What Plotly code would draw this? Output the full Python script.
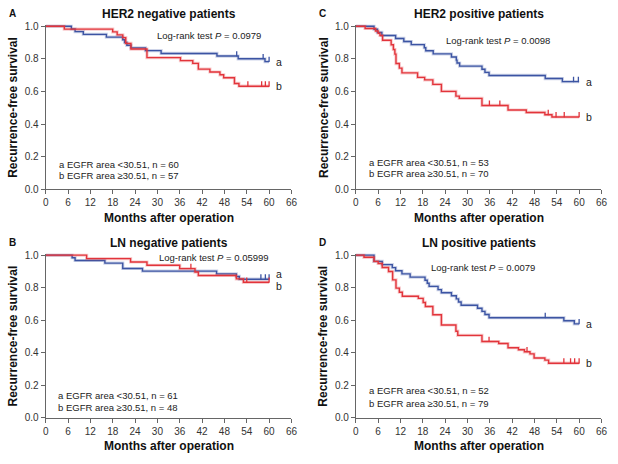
import plotly.graph_objects as go

W, H = 618, 464
BLUE = "#3D55A3"
RED = "#E2343B"
FONT = "Arial, Liberation Sans, sans-serif"

# ---- data (months, survival) ----
# A: HER2 negative patients
her2neg_a_t = [0, 6.9, 7.9, 10.1, 16.3, 20.7, 21.2, 21.8, 22.9, 26.8, 31, 46, 51.7, 58.9, 60]
her2neg_a_s = [1.0, 0.983, 0.967, 0.95, 0.933, 0.917, 0.9, 0.883, 0.867, 0.85, 0.833, 0.817, 0.8, 0.783, 0.783]
her2neg_a_cens = [51.3, 58.4, 60]
her2neg_b_t = [0, 5, 18, 19.2, 20.7, 21.5, 22.9, 27.2, 36.2, 39.5, 41, 44.1, 46.8, 47.8, 50.7, 51.9, 60]
her2neg_b_s = [1.0, 0.982, 0.965, 0.947, 0.93, 0.895, 0.86, 0.807, 0.789, 0.772, 0.737, 0.719, 0.702, 0.684, 0.649, 0.632, 0.632]
her2neg_b_cens = [54.3, 58, 59, 60]

# C: HER2 positive patients
her2pos_a_t = [0, 4.9, 5.8, 7.0, 10.7, 12.9, 14.9, 18.4, 18.8, 20.8, 25.7, 27, 27.2, 27.9, 33.9, 34.7, 35.8, 50.9, 55.5, 60]
her2pos_a_s = [1.0, 0.981, 0.962, 0.943, 0.925, 0.906, 0.887, 0.868, 0.849, 0.83, 0.811, 0.792, 0.774, 0.755, 0.736, 0.717, 0.698, 0.679, 0.66, 0.66]
her2pos_a_cens = [58.5, 59.8]
her2pos_b_t = [0, 2.5, 5.3, 6.0, 6.5, 7.2, 9.5, 10.1, 10.5, 10.8, 11.7, 12.4, 16.6, 18.5, 20.7, 23, 26.9, 27.8, 33.9, 40.9, 45.8, 50.8, 52.7, 60]
her2pos_b_s = [1.0, 0.986, 0.971, 0.957, 0.943, 0.914, 0.886, 0.857, 0.829, 0.771, 0.743, 0.714, 0.686, 0.671, 0.643, 0.6, 0.571, 0.557, 0.514, 0.486, 0.471, 0.457, 0.443, 0.443]
her2pos_b_cens = [35.9, 38.7, 51.7, 53.8, 56, 60]

# B: LN negative patients
lnneg_a_t = [0, 7.1, 7.9, 15.9, 20.7, 26, 45.9, 51.2, 52, 60]
lnneg_a_s = [1.0, 0.984, 0.967, 0.951, 0.918, 0.902, 0.885, 0.869, 0.852, 0.852]
lnneg_a_cens = [57.8, 59, 60]
lnneg_b_t = [0, 11, 22.8, 27.2, 36, 40.1, 41, 51.2, 53.1, 60]
lnneg_b_s = [1.0, 0.979, 0.958, 0.938, 0.917, 0.896, 0.875, 0.854, 0.833, 0.833]
lnneg_b_cens = [39, 54, 60]

# D: LN positive patients
lnpos_a_t = [0, 4.9, 7.1, 9.8, 10.7, 12.4, 14.6, 18.6, 19.2, 19.7, 22.1, 23, 25.7, 27, 27.6, 28.3, 32.7, 33.9, 34.7, 35.8, 55.9, 58.7, 60]
lnpos_a_s = [1.0, 0.962, 0.942, 0.923, 0.904, 0.885, 0.865, 0.846, 0.827, 0.808, 0.788, 0.769, 0.75, 0.731, 0.712, 0.692, 0.673, 0.654, 0.635, 0.615, 0.596, 0.577, 0.577]
lnpos_a_cens = [50.9, 60]
lnpos_b_t = [0, 2.2, 4.9, 6, 7.1, 8.8, 9.9, 10.8, 11.7, 12.5, 16.8, 18.1, 18.7, 20.7, 23, 26.9, 27.4, 33.9, 38.4, 40.9, 43.7, 45.3, 46.8, 47.9, 50.8, 51.8, 60]
lnpos_b_s = [1.0, 0.987, 0.962, 0.949, 0.924, 0.899, 0.848, 0.797, 0.772, 0.747, 0.734, 0.709, 0.684, 0.633, 0.57, 0.532, 0.506, 0.468, 0.456, 0.43, 0.418, 0.405, 0.392, 0.367, 0.354, 0.335, 0.335]
lnpos_b_cens = [35.8, 46, 55.9, 57.7, 58.8, 60]

x_ticks = list(range(0, 67, 6))
y_ticks = [0.0, 0.2, 0.4, 0.6, 0.8, 1.0]

panels = [
    dict(letter="A", title="HER2 negative patients", p="0.0979", na=60, nb=57,
         a=(her2neg_a_t, her2neg_a_s, her2neg_a_cens), b=(her2neg_b_t, her2neg_b_s, her2neg_b_cens),
         col=0, row=0, lr=(29.3, 0.94), leg=(3.1, 0.15, 0.086), shift=(0, 0)),
    dict(letter="C", title="HER2 positive patients", p="0.0098", na=53, nb=70,
         a=(her2pos_a_t, her2pos_a_s, her2pos_a_cens), b=(her2pos_b_t, her2pos_b_s, her2pos_b_cens),
         col=1, row=0, lr=(23.8, 0.91), leg=(2.9, 0.164, 0.098), shift=(0, 0)),
    dict(letter="B", title="LN negative patients", p="0.05999", na=61, nb=48,
         a=(lnneg_a_t, lnneg_a_s, lnneg_a_cens), b=(lnneg_b_t, lnneg_b_s, lnneg_b_cens),
         col=0, row=1, lr=(29.8, 0.985), leg=(2.9, 0.137, 0.064), shift=(5, -4)),
    dict(letter="D", title="LN positive patients", p="0.0079", na=52, nb=79,
         a=(lnpos_a_t, lnpos_a_s, lnpos_a_cens), b=(lnpos_b_t, lnpos_b_s, lnpos_b_cens),
         col=1, row=1, lr=(19.8, 0.925), leg=(3.1, 0.167, 0.088), shift=(0, 0)),
]

# plot-area pixel boxes
x_px = [(43.3, 292.7), (358.0, 607.3)]
y_px = [(22.7, 189.3), (256.7, 422.7)]   # y of 1.0 and 0.0
YMAX = 1.01


def step_value(t, s, x):
    v = s[0]
    for ti, si in zip(t, s):
        if ti <= x:
            v = si
    return v


fig = go.Figure()
layout = {}
annotations = []
for i, p in enumerate(panels):
    k = "" if i == 0 else str(i + 1)
    xl, xr = x_px[p["col"]]
    ytop, ybot = y_px[p["row"]]
    unit = ybot - ytop
    ytop_ext = ybot - unit * YMAX
    layout["xaxis" + k] = dict(
        domain=[xl / W, xr / W], anchor="y" + k, range=[0, 66], tickvals=x_ticks,
        showline=True, linecolor="#666", linewidth=1, ticks="outside", ticklen=4,
        tickcolor="#666", showgrid=False, zeroline=False,
        tickfont=dict(size=10, color="#333", family=FONT), fixedrange=True)
    layout["yaxis" + k] = dict(
        domain=[1 - ybot / H, 1 - ytop_ext / H], anchor="x" + k, range=[0, YMAX],
        tickvals=y_ticks, tickformat=".1f", showline=True, linecolor="#666", linewidth=1,
        ticks="outside", ticklen=4, tickcolor="#666", showgrid=False, zeroline=False,
        tickfont=dict(size=10, color="#333", family=FONT), fixedrange=True)

    for key, col in (("a", BLUE), ("b", RED)):
        t, s, cens = p[key]
        fig.add_trace(go.Scatter(x=t, y=s, mode="lines", line=dict(color=col, width=3.2, shape="hv"),
                                 opacity=0.25, xaxis="x" + k, yaxis="y" + k, hoverinfo="skip"))
        fig.add_trace(go.Scatter(x=t, y=s, mode="lines", line=dict(color=col, width=1.4, shape="hv"),
                                 xaxis="x" + k, yaxis="y" + k))
        cy = [step_value(t, s, c) for c in cens]
        fig.add_trace(go.Scatter(
            x=cens, y=cy, mode="markers", marker=dict(size=1, color=col),
            error_y=dict(type="data", symmetric=False, array=[0.03] * len(cens),
                         arrayminus=[0] * len(cens), width=0, thickness=1.3, color=col),
            xaxis="x" + k, yaxis="y" + k))
        ys = p["shift"][0] if key == "a" else p["shift"][1]
        annotations.append(dict(x=61.2, y=s[-1], xref="x" + k, yref="y" + k, text=key,
                                showarrow=False, xanchor="left", yanchor="middle", yshift=ys,
                                font=dict(size=10.5, color="#222", family=FONT)))

    cx = (xl + xr) / 2
    annotations += [
        dict(x=cx / W, y=1 - (ytop - 12.5) / H, xref="paper", yref="paper", showarrow=False,
             text="<b>%s</b>" % p["title"], xanchor="center", yanchor="middle",
             font=dict(size=12, color="#111", family=FONT)),
        dict(x=(xl - 33.5) / W, y=1 - (ytop - 12.5) / H, xref="paper", yref="paper", showarrow=False,
             text="<b>%s</b>" % p["letter"], xanchor="center", yanchor="middle",
             font=dict(size=10, color="#111", family=FONT)),
        dict(x=(xl - 33) / W, y=1 - (ytop + ybot) / 2 / H, xref="paper", yref="paper", showarrow=False,
             text="<b>Recurrence-free survival</b>", textangle=-90, xanchor="center", yanchor="middle",
             font=dict(size=12, color="#111", family=FONT)),
        dict(x=cx / W, y=1 - (ybot + 29) / H, xref="paper", yref="paper", showarrow=False,
             text="<b>Months after operation</b>", xanchor="center", yanchor="middle",
             font=dict(size=12, color="#111", family=FONT)),
        dict(x=p["lr"][0], y=p["lr"][1], xref="x" + k, yref="y" + k, showarrow=False,
             text="Log-rank test <i>P</i> = %s" % p["p"], xanchor="left", yanchor="middle",
             font=dict(size=9.5, color="#222", family=FONT)),
        dict(x=p["leg"][0], y=p["leg"][1], xref="x" + k, yref="y" + k, showarrow=False,
             text="a EGFR area &lt;30.51, n = %d" % p["na"], xanchor="left", yanchor="middle",
             font=dict(size=9.5, color="#222", family=FONT)),
        dict(x=p["leg"][0], y=p["leg"][2], xref="x" + k, yref="y" + k, showarrow=False,
             text="b EGFR area \u226530.51, n = %d" % p["nb"], xanchor="left", yanchor="middle",
             font=dict(size=9.5, color="#222", family=FONT)),
    ]

fig.update_layout(
    width=W, height=H, margin=dict(l=0, r=0, t=0, b=0),
    paper_bgcolor="white", plot_bgcolor="white", showlegend=False,
    annotations=annotations, font=dict(family=FONT), **layout)

fig.write_html("out.html", config={"displayModeBar": False},
               post_script="document.body.style.margin='0px';")
